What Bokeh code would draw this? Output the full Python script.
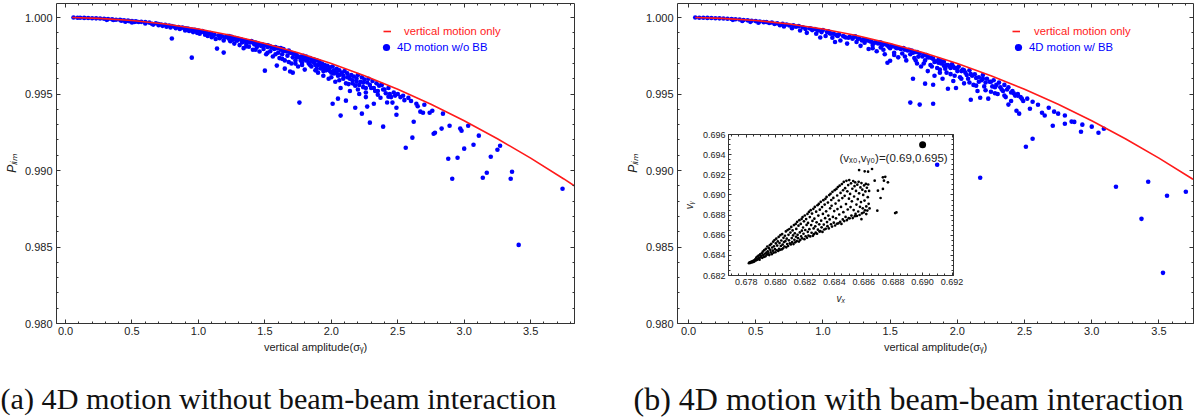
from bokeh.plotting import figure
from bokeh.models import (Legend, LegendItem, LinearAxis, Range1d,
                          SingleIntervalTicker, NumeralTickFormatter,
                          CustomJSTickFormatter, Label)
from bokeh.layouts import column, row
from bokeh.core.properties import value
from bokeh.embed import file_html
from bokeh.resources import INLINE

# ---------------- data ----------------
CURVE_X = [0.05, 0.25, 0.5, 0.75, 1.0, 1.25, 1.5, 1.75, 2.0, 2.25, 2.5, 2.75,
           3.0, 3.25, 3.5, 3.75, 3.9]
CURVE_P = [1.00000, 0.99995, 0.99981, 0.99958, 0.99925, 0.99883, 0.99831,
           0.99770, 0.99700, 0.99620, 0.99531, 0.99433, 0.99325, 0.99208,
           0.99081, 0.98945, 0.98859]

LEFT_POINTS = [
    (0.06, 1.00000), (0.09, 0.99999), (0.11, 0.99999), (0.14, 0.99998), (0.17, 0.99997),
    (0.20, 0.99996), (0.23, 0.99995), (0.26, 0.99994), (0.29, 0.99992), (0.31, 0.99985),
    (0.32, 0.99990), (0.35, 0.99989), (0.36, 0.99984), (0.38, 0.99986), (0.41, 0.99985),
    (0.42, 0.99980), (0.44, 0.99982), (0.45, 0.99973), (0.47, 0.99980), (0.48, 0.99976),
    (0.50, 0.99978), (0.50, 0.99968), (0.52, 0.99972), (0.53, 0.99975), (0.55, 0.99971),
    (0.57, 0.99972), (0.60, 0.99970), (0.60, 0.99962), (0.63, 0.99967), (0.65, 0.99960),
    (0.66, 0.99954), (0.68, 0.99963), (0.70, 0.99958), (0.70, 0.99950), (0.72, 0.99955),
    (0.73, 0.99946), (0.75, 0.99952), (0.76, 0.99940), (0.78, 0.99948), (0.79, 0.99935),
    (0.80, 0.99945), (0.80, 0.99863), (0.82, 0.99940), (0.83, 0.99930), (0.85, 0.99938),
    (0.86, 0.99925), (0.88, 0.99934), (0.90, 0.99930), (0.90, 0.99915), (0.92, 0.99928),
    (0.93, 0.99912), (0.95, 0.99738), (0.95, 0.99922), (0.96, 0.99905), (0.98, 0.99918),
    (0.99, 0.99900), (1.00, 0.99915), (1.01, 0.99895), (1.02, 0.99908), (1.04, 0.99905),
    (1.05, 0.99888), (1.06, 0.99900), (1.07, 0.99880), (1.08, 0.99896), (1.10, 0.99892),
    (1.10, 0.99872), (1.12, 0.99888), (1.13, 0.99860), (1.14, 0.99797), (1.15, 0.99882),
    (1.16, 0.99865), (1.18, 0.99876), (1.19, 0.99771), (1.19, 0.99850), (1.20, 0.99870),
    (1.22, 0.99880), (1.23, 0.99862), (1.24, 0.99845), (1.25, 0.99875), (1.26, 0.99855),
    (1.27, 0.99830), (1.28, 0.99866), (1.29, 0.99848), (1.30, 0.99862), (1.31, 0.99820),
    (1.32, 0.99855), (1.33, 0.99838), (1.34, 0.99800), (1.35, 0.99850), (1.36, 0.99828),
    (1.37, 0.99845), (1.38, 0.99810), (1.39, 0.99838), (1.40, 0.99846), (1.41, 0.99790),
    (1.42, 0.99825), (1.43, 0.99836), (1.44, 0.99808), (1.45, 0.99830), (1.46, 0.99778),
    (1.47, 0.99815), (1.48, 0.99825), (1.49, 0.99795), (1.50, 0.99653), (1.50, 0.99820),
    (1.51, 0.99760), (1.52, 0.99808), (1.53, 0.99815), (1.54, 0.99780), (1.55, 0.99805),
    (1.56, 0.99745), (1.57, 0.99795), (1.58, 0.99808), (1.59, 0.99686), (1.60, 0.99770),
    (1.60, 0.99800), (1.61, 0.99735), (1.62, 0.99790), (1.63, 0.99760), (1.64, 0.99795),
    (1.65, 0.99666), (1.65, 0.99720), (1.66, 0.99780), (1.67, 0.99750), (1.68, 0.99785),
    (1.69, 0.99647), (1.70, 0.99700), (1.70, 0.99770), (1.71, 0.99740), (1.71, 0.99640),
    (1.72, 0.99765), (1.73, 0.99699), (1.74, 0.99755), (1.75, 0.99680), (1.76, 0.99444),
    (1.76, 0.99740), (1.77, 0.99720), (1.78, 0.99690), (1.79, 0.99750), (1.80, 0.99660),
    (1.81, 0.99745), (1.82, 0.99720), (1.83, 0.99700), (1.84, 0.99735), (1.85, 0.99680),
    (1.86, 0.99728), (1.87, 0.99705), (1.88, 0.99655), (1.89, 0.99720), (1.90, 0.99690),
    (1.90, 0.99640), (1.91, 0.99712), (1.92, 0.99668), (1.93, 0.99700), (1.94, 0.99620),
    (1.95, 0.99690), (1.96, 0.99655), (1.97, 0.99685), (1.98, 0.99600), (1.99, 0.99675),
    (2.00, 0.99640), (2.01, 0.99437), (2.01, 0.99680), (2.02, 0.99655), (2.03, 0.99580),
    (2.04, 0.99665), (2.05, 0.99470), (2.05, 0.99620), (2.06, 0.99655), (2.07, 0.99359),
    (2.07, 0.99540), (2.08, 0.99640), (2.09, 0.99600), (2.10, 0.99650), (2.11, 0.99457),
    (2.11, 0.99570), (2.12, 0.99635), (2.13, 0.99610), (2.14, 0.99520), (2.15, 0.99625),
    (2.16, 0.99590), (2.17, 0.99615), (2.18, 0.99410), (2.18, 0.99555), (2.19, 0.99600),
    (2.20, 0.99625), (2.21, 0.99500), (2.22, 0.99580), (2.23, 0.99372), (2.23, 0.99610),
    (2.24, 0.99545), (2.25, 0.99595), (2.26, 0.99480), (2.27, 0.99418), (2.27, 0.99575),
    (2.28, 0.99600), (2.29, 0.99313), (2.30, 0.99540), (2.31, 0.99585), (2.32, 0.99437),
    (2.33, 0.99520), (2.34, 0.99570), (2.35, 0.99495), (2.36, 0.99555), (2.37, 0.99476),
    (2.38, 0.99560), (2.39, 0.99287), (2.40, 0.99530), (2.42, 0.99445), (2.43, 0.99483),
    (2.43, 0.99540), (2.45, 0.99480), (2.46, 0.99444), (2.47, 0.99510), (2.49, 0.99365),
    (2.49, 0.99411), (2.50, 0.99500), (2.52, 0.99480), (2.54, 0.99489), (2.55, 0.99460),
    (2.56, 0.99149), (2.58, 0.99475), (2.60, 0.99455), (2.61, 0.99215), (2.62, 0.99319),
    (2.64, 0.99437), (2.65, 0.99420), (2.67, 0.99385), (2.69, 0.99378), (2.70, 0.99430),
    (2.74, 0.99378), (2.76, 0.99391), (2.77, 0.99241), (2.78, 0.99247), (2.83, 0.99274),
    (2.84, 0.99372), (2.88, 0.99077), (2.89, 0.99293), (2.91, 0.98946), (2.95, 0.99084),
    (2.97, 0.99274), (2.98, 0.99260), (3.00, 0.99143), (3.03, 0.99293), (3.07, 0.99169),
    (3.11, 0.99228), (3.14, 0.98953), (3.17, 0.98986), (3.20, 0.99090), (3.25, 0.99136),
    (3.27, 0.99162), (3.35, 0.98946), (3.36, 0.98992), (3.41, 0.98514), (3.74, 0.98881),
    (0.91, 0.99925), (0.97, 0.99920), (1.03, 0.99912), (1.09, 0.99898), (1.11, 0.99884),
    (1.17, 0.99880), (1.21, 0.99874), (1.23, 0.99880), (1.26, 0.99868), (1.29, 0.99862),
    (1.32, 0.99858), (1.34, 0.99852), (1.36, 0.99846), (1.38, 0.99842), (1.41, 0.99838),
    (1.44, 0.99830), (1.46, 0.99824), (1.49, 0.99815), (1.52, 0.99818), (1.54, 0.99812),
    (1.56, 0.99805), (1.59, 0.99800), (1.62, 0.99800), (1.64, 0.99780), (1.67, 0.99778),
    (1.69, 0.99770), (1.72, 0.99760), (1.74, 0.99740), (1.77, 0.99745), (1.79, 0.99730),
    (1.81, 0.99720), (1.83, 0.99735), (1.85, 0.99715), (1.87, 0.99725), (1.88, 0.99690),
    (1.91, 0.99695), (1.93, 0.99680), (1.95, 0.99675), (1.97, 0.99660), (1.99, 0.99650),
    (2.02, 0.99635), (2.04, 0.99640), (2.06, 0.99625), (2.09, 0.99620), (2.12, 0.99610),
    (2.14, 0.99600), (2.16, 0.99570), (2.19, 0.99580), (2.21, 0.99560), (2.24, 0.99575),
    (2.26, 0.99540), (2.29, 0.99560), (2.32, 0.99540), (2.35, 0.99520), (2.39, 0.99530),
    (2.41, 0.99505), (2.44, 0.99500), (2.48, 0.99490), (1.36, 0.99812), (1.43, 0.99790),
    (1.52, 0.99770), (1.58, 0.99760), (1.63, 0.99730), (1.68, 0.99710), (1.73, 0.99720),
    (1.78, 0.99705), (1.84, 0.99690), (1.89, 0.99665), (1.94, 0.99650), (2.00, 0.99610),
    (2.06, 0.99590), (2.13, 0.99565), (2.20, 0.99530), (2.26, 0.99510),
]

RIGHT_POINTS = [
    (0.05, 1.00000), (0.08, 0.99999), (0.11, 0.99999), (0.14, 0.99998), (0.17, 0.99997),
    (0.20, 0.99996), (0.23, 0.99995), (0.26, 0.99994), (0.29, 0.99992), (0.32, 0.99991),
    (0.33, 0.99985), (0.35, 0.99989), (0.38, 0.99987), (0.40, 0.99978), (0.41, 0.99984),
    (0.44, 0.99982), (0.46, 0.99972), (0.47, 0.99979), (0.50, 0.99977), (0.52, 0.99966),
    (0.53, 0.99974), (0.56, 0.99970), (0.58, 0.99971), (0.60, 0.99965), (0.62, 0.99968),
    (0.64, 0.99958), (0.66, 0.99963), (0.68, 0.99950), (0.70, 0.99960), (0.71, 0.99942),
    (0.73, 0.99955), (0.75, 0.99948), (0.77, 0.99930), (0.78, 0.99950), (0.80, 0.99940),
    (0.82, 0.99944), (0.83, 0.99915), (0.85, 0.99936), (0.87, 0.99925), (0.88, 0.99900),
    (0.90, 0.99930), (0.92, 0.99918), (0.94, 0.99925), (0.95, 0.99895), (0.97, 0.99915),
    (0.98, 0.99870), (0.99, 0.99905), (1.00, 0.99918), (1.02, 0.99880), (1.03, 0.99906),
    (1.05, 0.99898), (1.07, 0.99868), (1.08, 0.99895), (1.09, 0.99840), (1.10, 0.99885),
    (1.12, 0.99890), (1.13, 0.99850), (1.15, 0.99880), (1.17, 0.99870), (1.18, 0.99830),
    (1.20, 0.99875), (1.22, 0.99862), (1.24, 0.99878), (1.25, 0.99840), (1.27, 0.99865),
    (1.28, 0.99815), (1.30, 0.99858), (1.31, 0.99835), (1.33, 0.99850), (1.34, 0.99795),
    (1.36, 0.99842), (1.37, 0.99820), (1.39, 0.99838), (1.40, 0.99780), (1.41, 0.99830),
    (1.43, 0.99836), (1.43, 0.99805), (1.45, 0.99825), (1.46, 0.99760), (1.48, 0.99705),
    (1.48, 0.99818), (1.50, 0.99718), (1.50, 0.99800), (1.52, 0.99812), (1.53, 0.99770),
    (1.55, 0.99800), (1.56, 0.99740), (1.58, 0.99795), (1.59, 0.99765), (1.60, 0.99800),
    (1.62, 0.99720), (1.63, 0.99785), (1.65, 0.99444), (1.65, 0.99760), (1.66, 0.99785),
    (1.67, 0.99600), (1.68, 0.99735), (1.69, 0.99775), (1.70, 0.99700), (1.72, 0.99431),
    (1.72, 0.99765), (1.73, 0.99680), (1.74, 0.99745), (1.76, 0.99568), (1.76, 0.99720),
    (1.77, 0.99755), (1.78, 0.99650), (1.79, 0.99740), (1.80, 0.99690), (1.82, 0.99437),
    (1.82, 0.99561), (1.82, 0.99730), (1.83, 0.99620), (1.84, 0.99715), (1.85, 0.99038),
    (1.85, 0.99670), (1.86, 0.99725), (1.87, 0.99640), (1.88, 0.99700), (1.89, 0.99600),
    (1.90, 0.99712), (1.91, 0.99665), (1.92, 0.99690), (1.93, 0.99535), (1.94, 0.99680),
    (1.95, 0.99630), (1.96, 0.99695), (1.97, 0.99585), (1.98, 0.99670), (1.99, 0.99540),
    (2.00, 0.99650), (2.01, 0.99680), (2.02, 0.99610), (2.04, 0.99660), (2.05, 0.99570),
    (2.06, 0.99640), (2.08, 0.99600), (2.09, 0.99655), (2.10, 0.99463), (2.11, 0.99620),
    (2.12, 0.99560), (2.13, 0.99630), (2.15, 0.99520), (2.16, 0.99610), (2.17, 0.98953),
    (2.17, 0.99476), (2.18, 0.99590), (2.19, 0.99625), (2.20, 0.99550), (2.22, 0.99600),
    (2.23, 0.99470), (2.24, 0.99580), (2.25, 0.99515), (2.27, 0.99590), (2.28, 0.99545),
    (2.30, 0.99500), (2.31, 0.99575), (2.33, 0.99530), (2.35, 0.99560), (2.36, 0.99480),
    (2.38, 0.99431), (2.38, 0.99545), (2.40, 0.99455), (2.41, 0.99520), (2.43, 0.99490),
    (2.44, 0.99391), (2.45, 0.99500), (2.46, 0.99372), (2.47, 0.99480), (2.49, 0.99455),
    (2.51, 0.99156), (2.52, 0.99470), (2.54, 0.99404), (2.56, 0.99208), (2.56, 0.99450),
    (2.60, 0.99430), (2.63, 0.99378), (2.65, 0.99360), (2.68, 0.99410), (2.71, 0.99293),
    (2.72, 0.99385), (2.75, 0.99372), (2.80, 0.99360), (2.80, 0.99306), (2.85, 0.99320),
    (2.87, 0.99318), (2.92, 0.99254), (2.93, 0.99300), (3.00, 0.99287), (3.05, 0.99247),
    (3.09, 0.99273), (3.18, 0.98894), (3.37, 0.98684), (3.42, 0.98927), (3.53, 0.98331),
    (3.56, 0.98835), (3.70, 0.98861),
    (0.91, 0.99928), (0.96, 0.99918), (1.04, 0.99910), (1.06, 0.99895), (1.11, 0.99880),
    (1.16, 0.99875), (1.19, 0.99868), (1.23, 0.99872), (1.26, 0.99860), (1.29, 0.99850),
    (1.32, 0.99855), (1.35, 0.99845), (1.38, 0.99835), (1.42, 0.99838), (1.44, 0.99820),
    (1.47, 0.99825), (1.49, 0.99810), (1.51, 0.99815), (1.54, 0.99805), (1.57, 0.99800),
    (1.61, 0.99790), (1.64, 0.99790), (1.67, 0.99770), (1.70, 0.99775), (1.71, 0.99745),
    (1.75, 0.99755), (1.78, 0.99740), (1.81, 0.99735), (1.83, 0.99710), (1.86, 0.99705),
    (1.88, 0.99715), (1.90, 0.99685), (1.93, 0.99690), (1.95, 0.99670), (1.97, 0.99680),
    (2.00, 0.99670), (2.03, 0.99650), (2.05, 0.99655), (2.07, 0.99625), (2.10, 0.99630),
    (2.14, 0.99605), (2.16, 0.99580), (2.19, 0.99600), (2.21, 0.99575), (2.25, 0.99580),
    (2.26, 0.99550), (2.29, 0.99560), (2.32, 0.99545), (2.34, 0.99520), (2.37, 0.99530),
    (2.40, 0.99510), (2.42, 0.99505), (2.45, 0.99490), (2.48, 0.99470), (1.37, 0.99800),
    (1.45, 0.99790), (1.53, 0.99755), (1.61, 0.99745), (1.69, 0.99720), (1.75, 0.99700),
    (1.81, 0.99680), (1.87, 0.99660), (1.92, 0.99640), (1.98, 0.99620), (2.03, 0.99600),
    (2.09, 0.99575), (2.14, 0.99555), (2.21, 0.99525), (2.28, 0.99505), (2.35, 0.99490),
]

# inset: tune-shift points (v_x, v_y)
INSET_POINTS = [
    (0.67819, 0.68322), (0.67824, 0.68331), (0.67828, 0.68325), (0.67833, 0.68336),
    (0.67837, 0.68329), (0.67841, 0.68341), (0.67846, 0.68333), (0.67851, 0.68348),
    (0.67855, 0.68338), (0.67859, 0.68352), (0.67862, 0.68361), (0.67866, 0.68349),
    (0.67869, 0.68377), (0.67874, 0.68356), (0.67877, 0.68389), (0.67881, 0.68364),
    (0.67885, 0.68398), (0.67888, 0.68372), (0.67891, 0.68357), (0.67895, 0.68410),
    (0.67898, 0.68383), (0.67902, 0.68394), (0.67906, 0.68421), (0.67909, 0.68376),
    (0.67913, 0.68437), (0.67916, 0.68403), (0.67920, 0.68385), (0.67923, 0.68452),
    (0.67927, 0.68416), (0.67931, 0.68391), (0.67934, 0.68465), (0.67938, 0.68428),
    (0.67941, 0.68407), (0.67944, 0.68488), (0.67947, 0.68441), (0.67951, 0.68419),
    (0.67954, 0.68472), (0.67957, 0.68403), (0.67961, 0.68501), (0.67964, 0.68455),
    (0.67967, 0.68430), (0.67971, 0.68515), (0.67974, 0.68412), (0.67977, 0.68478),
    (0.67981, 0.68447), (0.67984, 0.68536), (0.67986, 0.68427), (0.67989, 0.68490),
    (0.67993, 0.68552), (0.67996, 0.68462), (0.67999, 0.68431), (0.68002, 0.68519),
    (0.68005, 0.68566), (0.68008, 0.68451), (0.68011, 0.68497), (0.68015, 0.68539),
    (0.68018, 0.68444), (0.68021, 0.68583), (0.68024, 0.68466), (0.68027, 0.68522),
    (0.68030, 0.68455), (0.68033, 0.68601), (0.68036, 0.68493), (0.68039, 0.68548),
    (0.68042, 0.68459), (0.68045, 0.68612), (0.68048, 0.68507), (0.68051, 0.68470),
    (0.68054, 0.68574), (0.68057, 0.68532), (0.68061, 0.68488), (0.68064, 0.68595),
    (0.68067, 0.68541), (0.68070, 0.68638), (0.68073, 0.68480), (0.68076, 0.68566),
    (0.68079, 0.68512), (0.68082, 0.68651), (0.68085, 0.68493), (0.68088, 0.68604),
    (0.68091, 0.68550), (0.68094, 0.68662), (0.68097, 0.68519), (0.68101, 0.68627),
    (0.68104, 0.68509), (0.68107, 0.68683), (0.68110, 0.68572), (0.68113, 0.68531),
    (0.68116, 0.68648), (0.68119, 0.68598), (0.68122, 0.68512), (0.68125, 0.68701),
    (0.68128, 0.68555), (0.68131, 0.68619), (0.68134, 0.68530), (0.68137, 0.68712),
    (0.68139, 0.68585), (0.68141, 0.68663), (0.68144, 0.68541), (0.68147, 0.68733),
    (0.68150, 0.68604), (0.68153, 0.68571), (0.68156, 0.68695), (0.68159, 0.68537),
    (0.68162, 0.68750), (0.68165, 0.68628), (0.68168, 0.68553), (0.68171, 0.68712),
    (0.68174, 0.68589), (0.68177, 0.68762), (0.68179, 0.68645), (0.68181, 0.68569),
    (0.68184, 0.68781), (0.68187, 0.68677), (0.68190, 0.68615), (0.68193, 0.68738),
    (0.68196, 0.68561), (0.68199, 0.68796), (0.68202, 0.68652), (0.68205, 0.68590),
    (0.68208, 0.68761), (0.68211, 0.68703), (0.68214, 0.68575), (0.68217, 0.68812),
    (0.68219, 0.68634), (0.68221, 0.68722), (0.68224, 0.68597), (0.68227, 0.68832),
    (0.68230, 0.68660), (0.68233, 0.68781), (0.68236, 0.68588), (0.68239, 0.68849),
    (0.68242, 0.68701), (0.68245, 0.68625), (0.68248, 0.68815), (0.68251, 0.68742),
    (0.68254, 0.68594), (0.68257, 0.68862), (0.68259, 0.68668), (0.68261, 0.68611),
    (0.68264, 0.68765), (0.68267, 0.68881), (0.68270, 0.68689), (0.68273, 0.68627),
    (0.68276, 0.68834), (0.68279, 0.68728), (0.68282, 0.68615), (0.68285, 0.68898),
    (0.68288, 0.68655), (0.68291, 0.68795), (0.68294, 0.68911), (0.68297, 0.68708),
    (0.68299, 0.68636), (0.68301, 0.68854), (0.68304, 0.68640), (0.68307, 0.68931),
    (0.68310, 0.68745), (0.68313, 0.68679), (0.68316, 0.68880), (0.68319, 0.68633),
    (0.68322, 0.68812), (0.68325, 0.68948), (0.68328, 0.68706), (0.68331, 0.68657),
    (0.68334, 0.68905), (0.68337, 0.68770), (0.68339, 0.68962), (0.68341, 0.68664),
    (0.68344, 0.68838), (0.68347, 0.68981), (0.68350, 0.68731), (0.68353, 0.68690),
    (0.68356, 0.68925), (0.68359, 0.68795), (0.68362, 0.68668), (0.68365, 0.68999),
    (0.68368, 0.68757), (0.68371, 0.68867), (0.68374, 0.69012), (0.68377, 0.68709),
    (0.68379, 0.68950), (0.68381, 0.68893), (0.68384, 0.68686), (0.68387, 0.69031),
    (0.68390, 0.68782), (0.68393, 0.68971), (0.68396, 0.68725), (0.68399, 0.68840),
    (0.68402, 0.69048), (0.68405, 0.68697), (0.68408, 0.68915), (0.68411, 0.68768),
    (0.68414, 0.69060), (0.68417, 0.68714), (0.68419, 0.68995), (0.68421, 0.68860),
    (0.68424, 0.69079), (0.68427, 0.68718), (0.68430, 0.68945), (0.68433, 0.68806),
    (0.68436, 0.69093), (0.68439, 0.68733), (0.68442, 0.69020), (0.68445, 0.68881),
    (0.68448, 0.68712), (0.68451, 0.69108), (0.68454, 0.68969), (0.68457, 0.68757),
    (0.68459, 0.69047), (0.68461, 0.68829), (0.68464, 0.69130), (0.68467, 0.68741),
    (0.68470, 0.68992), (0.68473, 0.69068), (0.68476, 0.68782), (0.68479, 0.68910),
    (0.68482, 0.69141), (0.68485, 0.68750), (0.68488, 0.69036), (0.68491, 0.68856),
    (0.68494, 0.69098), (0.68497, 0.68770), (0.68499, 0.68963), (0.68501, 0.69148),
    (0.68504, 0.68768), (0.68507, 0.69011), (0.68510, 0.68880), (0.68513, 0.69116),
    (0.68516, 0.68795), (0.68519, 0.68937), (0.68522, 0.69062), (0.68525, 0.68771),
    (0.68528, 0.69139), (0.68531, 0.68850), (0.68534, 0.68985), (0.68537, 0.69088),
    (0.68539, 0.68789), (0.68541, 0.69126), (0.68544, 0.68812), (0.68547, 0.69040),
    (0.68550, 0.68905), (0.68553, 0.68791), (0.68556, 0.69102), (0.68559, 0.68958),
    (0.68562, 0.68836), (0.68565, 0.69131), (0.68568, 0.69017), (0.68571, 0.68801),
    (0.68574, 0.68882), (0.68577, 0.69075), (0.68581, 0.68930), (0.68584, 0.69118),
    (0.68587, 0.68818), (0.68590, 0.69053), (0.68593, 0.68867), (0.68596, 0.69001),
    (0.68599, 0.68826), (0.68602, 0.69095), (0.68605, 0.68944), (0.68608, 0.68848),
    (0.68611, 0.69035), (0.68614, 0.69110), (0.68617, 0.68886), (0.68621, 0.69072),
    (0.68624, 0.68845), (0.68627, 0.68978), (0.68630, 0.69104), (0.68633, 0.68912),
    (0.68636, 0.69040), (0.68639, 0.68866),
    (0.68568, 0.69248), (0.68606, 0.69235), (0.68629, 0.69232), (0.68656, 0.69258),
    (0.68674, 0.69142), (0.68696, 0.69043), (0.68730, 0.69060), (0.68737, 0.69142),
    (0.68730, 0.69175), (0.68764, 0.69126), (0.68714, 0.68970), (0.68692, 0.68844),
    (0.68813, 0.68820), (0.68822, 0.68827), (0.68746, 0.69180), (0.68584, 0.68760),
    (0.68617, 0.68810),
]
START_POINT = (0.690, 0.695)

CAPTIONS = ["(a) 4D motion without beam-beam interaction",
            "(b) 4D motion with beam-beam interaction"]
LEGEND_LINE = "vertical motion only"
LEGEND_DOTS = ["4D motion w/o BB", "4D motion w/ BB"]

FONT = "Liberation Sans"
AX = "#333333"
RED = "#ff1a1a"
BLUE = "#0000ff"


def style_axes(p, x_int, y_int, x_fmt, y_fmt, tick_size, fsize, minor):
    below = p.below[0]
    left = p.left[0]
    above = LinearAxis()
    right = LinearAxis()
    p.add_layout(above, "above")
    p.add_layout(right, "right")
    for ax in (below, above):
        ax.ticker = SingleIntervalTicker(interval=x_int, num_minor_ticks=minor)
    for ax in (left, right):
        ax.ticker = SingleIntervalTicker(interval=y_int, num_minor_ticks=minor)
    below.formatter = NumeralTickFormatter(format=x_fmt)
    left.formatter = NumeralTickFormatter(format=y_fmt)
    for ax in (above, right):
        ax.formatter = CustomJSTickFormatter(code="return ''")
        ax.major_label_text_font_size = "0px"
        ax.major_label_standoff = 0
    for ax in (below, left, above, right):
        ax.axis_line_color = AX
        ax.major_tick_line_color = AX
        ax.minor_tick_line_color = AX
        ax.major_tick_in = tick_size
        ax.major_tick_out = 0
        ax.minor_tick_in = max(2, tick_size - 2)
        ax.minor_tick_out = 0
        ax.axis_label_text_font = FONT
        ax.axis_label_text_font_style = "normal"
        ax.axis_label_text_color = "#222222"
    for ax in (below, left):
        ax.major_label_text_font = FONT
        ax.major_label_text_color = "#222222"
        ax.major_label_text_font_size = fsize
        ax.major_label_standoff = 3
    return below, left


def main_panel(width, xr, bl, br, points, label, leg_x):
    p = figure(width=width, height=360, x_range=Range1d(*xr),
               y_range=Range1d(0.980, 1.00092), output_backend="svg",
               toolbar_location=None, min_border_left=bl, min_border_right=br,
               min_border_top=3, min_border_bottom=37, outline_line_color=None,
               background_fill_color="white", border_fill_color="white")
    p.grid.visible = False
    below, left = style_axes(p, 0.5, 0.005, "0.0", "0.000", 4, "11px", 5)
    below.axis_label = "vertical amplitude(σᵧ)"
    below.axis_label_text_font_size = "11px"
    below.axis_label_standoff = 3
    left.axis_label = "Pₗᵢₘ"
    left.axis_label_text_font_style = "italic"
    left.axis_label_text_font_size = "12px"
    left.axis_label_standoff = 3
    left.major_label_standoff = 4

    xs = [a for a, b in points]
    ys = [b for a, b in points]
    dots = p.scatter(xs, ys, size=4.6, marker="circle", fill_color=BLUE,
                     line_color=None)
    line = p.line(CURVE_X, CURVE_P, line_color=RED, line_width=1.6)

    common = dict(padding=0, margin=0, spacing=0, border_line_color=None,
                  background_fill_alpha=0, label_text_font=FONT,
                  label_text_font_size="11.3px")
    leg1 = Legend(items=[LegendItem(label=LEGEND_LINE, renderers=[line])],
                  location=(leg_x[0], 286), glyph_width=8, glyph_height=12,
                  label_height=12, label_standoff=leg_x[1],
                  label_text_color=RED, **common)
    leg2 = Legend(items=[LegendItem(label=label, renderers=[dots])],
                  location=(leg_x[2], 267), glyph_width=18, glyph_height=18,
                  label_height=18, label_standoff=leg_x[3],
                  label_text_color=BLUE, **common)
    p.add_layout(leg1)
    p.add_layout(leg2)
    return p


def caption_panel(width, text, x0, fsize):
    c = figure(width=width, height=58, x_range=Range1d(0, width),
               y_range=Range1d(0, 58), output_backend="svg",
               toolbar_location=None, x_axis_type=None, y_axis_type=None,
               min_border=0, outline_line_color=None,
               background_fill_color="white", border_fill_color="white")
    c.grid.visible = False
    c.text(x=[x0], y=[20], text=[text], text_font=value("Liberation Serif"),
           text_font_size=fsize, text_color="#111111",
           text_baseline="middle", text_align="left")
    return c


p1 = main_panel(620, (-0.068, 3.83), 56, 46, LEFT_POINTS, LEGEND_DOTS[0],
                (327, 13, 321, 2))
p2 = main_panel(574, (-0.082, 3.757), 57, 1, RIGHT_POINTS, LEGEND_DOTS[1],
                (335, 14, 332, 2))
c1 = caption_panel(620, CAPTIONS[0], 0, "30.2px")
c2 = caption_panel(574, CAPTIONS[1], 13, "32px")

# ---------------- inset ----------------
ins = figure(width=285, height=182, x_range=Range1d(0.6768, 0.6921),
             y_range=Range1d(0.682, 0.69601), output_backend="svg",
             toolbar_location=None, min_border_left=43, min_border_right=12,
             min_border_top=9, min_border_bottom=32, outline_line_color=None,
             background_fill_alpha=0, border_fill_alpha=0,
             margin=(-293, 0, 0, 680))
ins.grid.visible = False
ib, il = style_axes(ins, 0.002, 0.002, "0.000", "0.000", 3, "9px", 4)
ib.axis_label = "vₓ"
il.axis_label = "vᵧ"
for ax in (ib, il):
    ax.axis_label_text_font_size = "10px"
    ax.axis_label_text_font_style = "italic"
    ax.axis_label_standoff = 5

ivx = [a for a, b in INSET_POINTS]
ivy = [b for a, b in INSET_POINTS]
ins.scatter(ivx, ivy, size=2.7, marker="circle", fill_color="black",
            line_color=None)
ins.scatter([START_POINT[0]], [START_POINT[1]], size=7, marker="circle",
            fill_color="black", line_color=None)
ins.add_layout(Label(x=0.6917, y=0.6937, text="(vₓ₀,vᵧ₀)=(0.69,0.695)",
                     text_align="right", text_baseline="middle",
                     text_font=FONT, text_font_size="11.5px",
                     text_color="#222222"))

layout = column(row(p1, p2), row(c1, c2), ins)
open("out.html", "w").write(file_html(layout, INLINE))
